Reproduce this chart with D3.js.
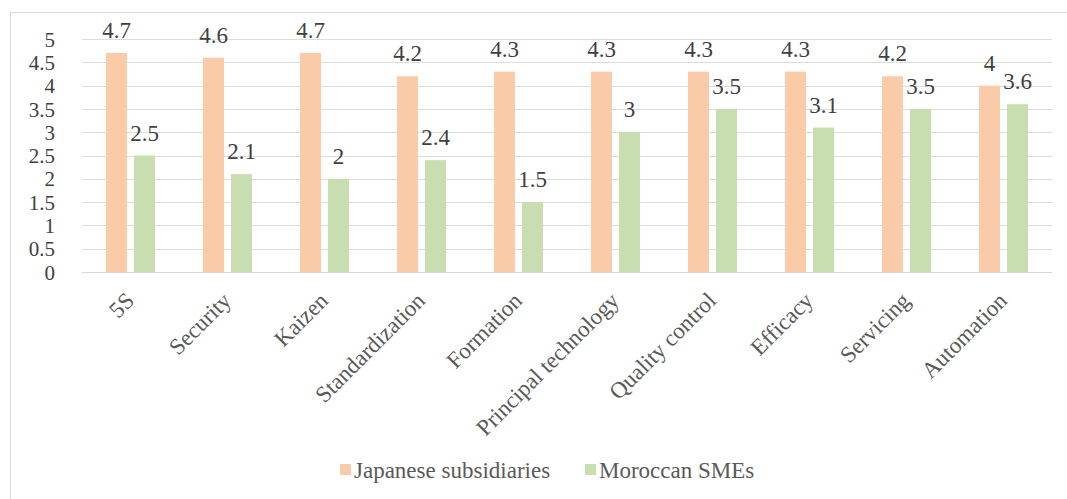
<!DOCTYPE html>
<html>
<head>
<meta charset="utf-8">
<script src="https://cdn.jsdelivr.net/npm/d3@7"></script>
<style>
  html, body { margin: 0; padding: 0; background: #fff; }
  svg { display: block; }
</style>
</head>
<body>
<svg id="chart" width="1067" height="499"></svg>
<script>
const categories = ["5S", "Security", "Kaizen", "Standardization", "Formation",
  "Principal technology", "Quality control", "Efficacy", "Servicing", "Automation"];
const seriesNames = ["Japanese subsidiaries", "Moroccan SMEs"];
const japanese = [4.7, 4.6, 4.7, 4.2, 4.3, 4.3, 4.3, 4.3, 4.2, 4.0];
const moroccan = [2.5, 2.1, 2.0, 2.4, 1.5, 3.0, 3.5, 3.1, 3.5, 3.6];
const yTicks = [0, 0.5, 1, 1.5, 2, 2.5, 3, 3.5, 4, 4.5, 5];
const colors = ["#F9CBA9", "#C8DDB0"];

const FONT = "'Liberation Serif', 'Times New Roman', serif";
const svg = d3.select("#chart");
const W = 1067, H = 499;
const plotL = 82, plotR = 1052, plotT = 39, plotB = 272;

// outer frame
svg.append("rect").attr("x", 10.5).attr("y", 12.5).attr("width", W).attr("height", H)
  .attr("fill", "none").attr("stroke", "#d9d9d9").attr("stroke-width", 1);

const x = d3.scaleBand().domain(categories).range([plotL, plotR]).paddingInner(0).paddingOuter(0);
const y = d3.scaleLinear().domain([0, 5]).range([plotB, plotT]);

// gridlines
svg.append("g").selectAll("line").data(yTicks.filter(d => d > 0)).join("line")
  .attr("x1", plotL).attr("x2", plotR)
  .attr("y1", d => Math.round(y(d)) + 0.5).attr("y2", d => Math.round(y(d)) + 0.5)
  .attr("stroke", "#dcdcdc").attr("stroke-width", 1);

// y axis labels
const yAxis = d3.axisLeft(y).tickValues(yTicks).tickSize(0).tickPadding(0)
  .tickFormat(d => String(d));
const yg = svg.append("g").attr("transform", `translate(${55},0)`).call(yAxis);
yg.select(".domain").remove();
yg.selectAll("text").style("font-family", FONT)
  .style("font-size", "21px").attr("fill", "#404040").attr("dy", "0.34em");

// baseline
svg.append("line").attr("x1", plotL).attr("x2", plotR)
  .attr("y1", plotB + 0.5).attr("y2", plotB + 0.5)
  .attr("stroke", "#d6d6d6").attr("stroke-width", 1.2);

const barW = 21, gap = 7;
const groupW = barW * 2 + gap;
const series = [japanese, moroccan];
const xs = i => x.bandwidth() / 2 - groupW / 2 + i * (barW + gap);

series.forEach((vals, si) => {
  const g = svg.append("g");
  g.selectAll("rect").data(vals).join("rect")
    .attr("x", (d, i) => x(categories[i]) + xs(si))
    .attr("y", d => y(d))
    .attr("width", barW)
    .attr("height", d => y(0) - y(d))
    .attr("fill", colors[si]);
  g.selectAll("text").data(vals).join("text")
    .attr("x", (d, i) => x(categories[i]) + xs(si) + barW / 2)
    .attr("y", d => y(d) - 15)
    .attr("text-anchor", "middle")
    .style("font-family", FONT)
    .style("font-size", "23px")
    .attr("fill", "#404040")
    .text(d => String(d));
});

// category labels (rotated)
const xAxis = d3.axisBottom(x).tickSize(0).tickPadding(0);
const xg = svg.append("g").attr("transform", `translate(0,${plotB})`).call(xAxis);
xg.select(".domain").remove();
xg.selectAll(".tick text")
  .style("font-family", FONT)
  .style("font-size", "23px")
  .attr("fill", "#595959")
  .attr("text-anchor", "end")
  .attr("dy", 0)
  .attr("y", 0)
  .attr("transform", "translate(5,30) rotate(-45)");

// legend
const legend = svg.append("g").attr("transform", "translate(0,471)");
const items = [{ name: seriesNames[0], c: colors[0], x: 340 }, { name: seriesNames[1], c: colors[1], x: 585 }];
items.forEach(it => {
  legend.append("rect").attr("x", it.x).attr("y", -7).attr("width", 11).attr("height", 11).attr("fill", it.c);
  legend.append("text").attr("x", it.x + 14).attr("y", 0).attr("dy", "0.3em")
    .style("font-family", FONT).style("font-size", "23px")
    .attr("fill", "#595959").text(it.name);
});
</script>
</body>
</html>
